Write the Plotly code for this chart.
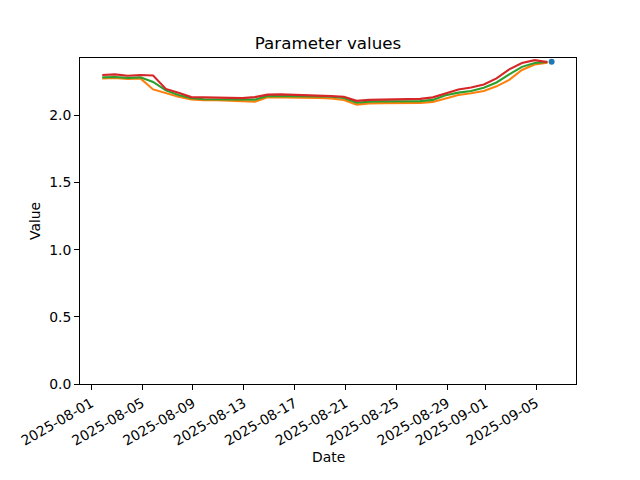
import plotly.graph_objects as go
import pandas as pd

# Daily timestamps of the series (first sample evening of 2025-08-01)
dates = pd.date_range("2025-08-01 21:00", periods=36, freq="D")

orange_vals = [2.275, 2.279, 2.271, 2.275, 2.193, 2.164, 2.138, 2.119, 2.112, 2.112,
               2.109, 2.108, 2.102, 2.135, 2.135, 2.134, 2.132, 2.130, 2.126, 2.115,
               2.080, 2.089, 2.091, 2.091, 2.092, 2.093, 2.100, 2.123, 2.151, 2.164,
               2.181, 2.216, 2.264, 2.338, 2.379, 2.392]

green_vals = [2.283, 2.286, 2.279, 2.283, 2.249, 2.186, 2.152, 2.128, 2.120, 2.119,
              2.119, 2.115, 2.117, 2.145, 2.145, 2.143, 2.143, 2.141, 2.138, 2.129,
              2.094, 2.102, 2.104, 2.104, 2.106, 2.106, 2.115, 2.149, 2.169, 2.181,
              2.206, 2.245, 2.305, 2.361, 2.390, 2.398]

red_vals = [2.300, 2.305, 2.295, 2.300, 2.297, 2.197, 2.169, 2.136, 2.134, 2.132,
            2.130, 2.128, 2.136, 2.154, 2.156, 2.154, 2.151, 2.149, 2.143, 2.139,
            2.108, 2.115, 2.115, 2.119, 2.121, 2.123, 2.134, 2.164, 2.193, 2.208,
            2.230, 2.275, 2.342, 2.390, 2.411, 2.396]

blue_dates = ["2025-09-06 05:00"]
blue_vals = [2.400]

x_tick_dates = ["2025-08-01", "2025-08-05", "2025-08-09", "2025-08-13", "2025-08-17",
                "2025-08-21", "2025-08-25", "2025-08-29", "2025-09-01", "2025-09-05"]
y_ticks = [0.0, 0.5, 1.0, 1.5, 2.0]

FONT = "DejaVu Sans"
LW = 2.1

fig = go.Figure()
fig.add_trace(go.Scatter(x=blue_dates, y=blue_vals, mode="markers",
                         marker=dict(color="#1f77b4", size=6), showlegend=False))
fig.add_trace(go.Scatter(x=dates, y=orange_vals, mode="lines",
                         line=dict(color="#ff7f0e", width=LW), showlegend=False))
fig.add_trace(go.Scatter(x=dates, y=green_vals, mode="lines",
                         line=dict(color="#2ca02c", width=LW), showlegend=False))
fig.add_trace(go.Scatter(x=dates, y=red_vals, mode="lines",
                         line=dict(color="#d62728", width=LW), showlegend=False))

# The page body has an 8px default margin; compensate so the plot area lands at
# x 80..576, y 58..384 in the 640x480 window.
OFF = 8
W, H = 640 - OFF, 480 - OFF
L, T = 80 - OFF, 58 - OFF
plot_w, plot_h = 496, 326
R = W - L - plot_w
B = H - T - plot_h

fig.update_layout(
    width=W, height=H,
    margin=dict(l=L, r=R, t=T, b=B, pad=0, autoexpand=False),
    paper_bgcolor="white", plot_bgcolor="white",
    font=dict(family=FONT, size=13.9, color="black"),
    title=dict(text="Parameter values", x=0.5, xref="paper", xanchor="center",
               y=(H - (43 - OFF)) / H, yref="container", yanchor="middle",
               font=dict(family=FONT, size=16.7, color="black")),
    xaxis=dict(
        type="date", automargin=False,
        range=["2025-07-31 03:00", "2025-09-08 03:00"],
        tickvals=x_tick_dates, ticktext=x_tick_dates,
        tickangle=-30, ticks="outside", ticklen=5, tickwidth=1, tickcolor="black",
        showline=True, linecolor="black", linewidth=1, mirror=True,
        showgrid=False, zeroline=False,
        tickfont=dict(family=FONT, size=13.9, color="black"),
    ),
    yaxis=dict(
        automargin=False,
        range=[0, 2.427],
        tickvals=y_ticks, ticktext=[f"{v:.1f}" for v in y_ticks],
        ticks="outside", ticklen=5, tickwidth=1, tickcolor="black",
        showline=True, linecolor="black", linewidth=1, mirror=True,
        showgrid=False, zeroline=False,
        tickfont=dict(family=FONT, size=13.9, color="black"),
    ),
    annotations=[
        dict(text="Date", x=(328 - 80) / plot_w, y=(384 - 457) / plot_h,
             xref="paper", yref="paper", xanchor="center", yanchor="middle",
             showarrow=False, font=dict(family=FONT, size=13.9, color="black")),
        dict(text="Value", textangle=-90, x=(35 - 80) / plot_w, y=(384 - 221) / plot_h,
             xref="paper", yref="paper", xanchor="center", yanchor="middle",
             showarrow=False, font=dict(family=FONT, size=13.9, color="black")),
    ],
)

fig.write_html("out.html")
